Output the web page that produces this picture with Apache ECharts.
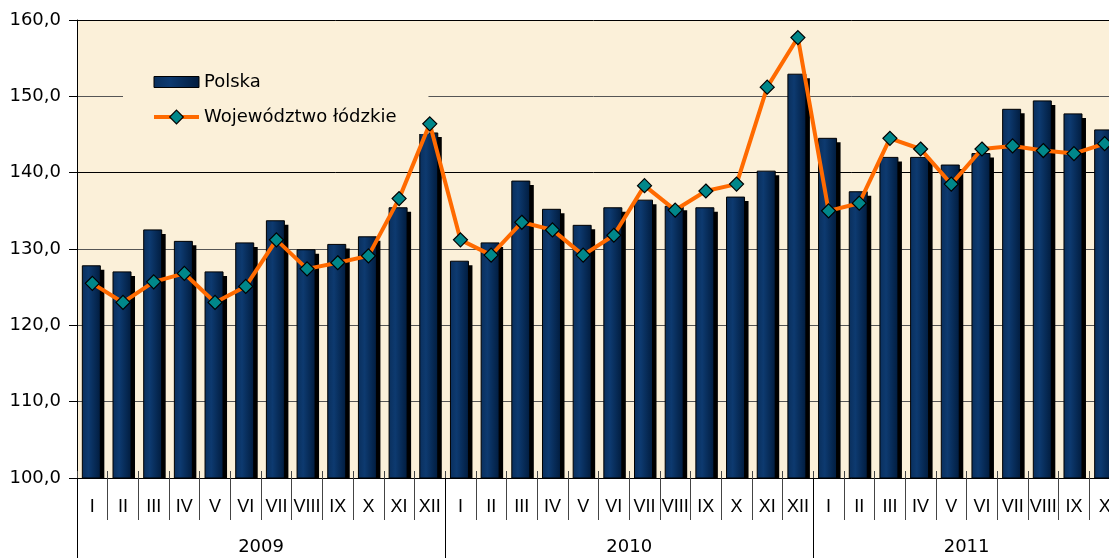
<!DOCTYPE html>
<html lang="pl">
  <head>
    <meta charset="UTF-8" />
    <title>Polska / Województwo łódzkie</title>
    <script src="https://cdn.jsdelivr.net/npm/echarts@6/dist/echarts.min.js"></script>
    <style>
      html, body { margin: 0; padding: 0; background: #fff; }
    </style>
  </head>
  <body>
    <div id="main" style="width: 1109px; height: 558px"></div>
    <script type="text/javascript">
      // data
      const months = [
        "I", "II", "III", "IV", "V", "VI", "VII", "VIII", "IX", "X", "XI", "XII",
        "I", "II", "III", "IV", "V", "VI", "VII", "VIII", "IX", "X", "XI", "XII",
        "I", "II", "III", "IV", "V", "VI", "VII", "VIII", "IX", "X",
      ];
      const years = ["2009", "2010", "2011"];
      const yearStart = [0, 12, 24];
      const yearMid = [6, 18, 29];

      const polska = [
        127.8, 127.0, 132.5, 131.0, 127.0, 130.8, 133.7, 129.9, 130.6, 131.6, 135.4, 145.2,
        128.4, 130.8, 138.9, 135.2, 133.1, 135.4, 136.4, 135.6, 135.4, 136.8, 140.2, 152.9,
        144.5, 137.5, 142.0, 142.0, 141.0, 142.5, 148.3, 149.4, 147.7, 145.6,
      ];
      const lodzkie = [
        125.5, 123.0, 125.7, 126.8, 123.0, 125.1, 131.2, 127.4, 128.2, 129.1, 136.6, 146.4,
        131.2, 129.2, 133.5, 132.5, 129.2, 131.8, 138.3, 135.1, 137.6, 138.5, 151.2, 157.7,
        135.0, 136.0, 144.5, 143.1, 138.5, 143.1, 143.5, 142.9, 142.5, 143.8,
      ];

      const wideFont = "'DejaVu Sans', Arial, sans-serif";
      const narrowFont = "'Liberation Sans Narrow', 'Arial Narrow', Arial, sans-serif";
      const plotBg = "#fbf0d9";

      const barFill = new echarts.graphic.LinearGradient(0, 0, 1, 0, [
        { offset: 0, color: "#0a2f5c" },
        { offset: 0.35, color: "#0d3a70" },
        { offset: 1, color: "#011c3e" },
      ]);

      // bar with a hard black drop shadow, clipped to the plot
      function renderBar(params, api) {
        const pt = api.coord([api.value(0), api.value(1)]);
        const base = params.coordSys.y + params.coordSys.height;
        const w = 18;
        const x = pt[0] - w / 2 - 1;
        const h = base - pt[1];
        return {
          type: "group",
          children: [
            { type: "rect", shape: { x: x + 4, y: pt[1] + 4, width: w, height: h }, style: { fill: "#000" } },
            { type: "rect", shape: { x: x, y: pt[1], width: w, height: h }, style: { fill: barFill, stroke: "#000", lineWidth: 1 } },
          ],
        };
      }

      let myChart = echarts.init(document.getElementById("main"));

      let options = {
        animation: false,
        textStyle: { fontFamily: wideFont },
        grid: {
          left: 77,
          right: -11,
          top: 20,
          bottom: 80,
          outerBoundsMode: "none",
          containLabel: false,
          show: true,
          backgroundColor: plotBg,
          borderWidth: 0,
        },
        legend: {
          orient: "vertical",
          left: 123,
          top: 65,
          padding: [8, 32, 8, 29],
          backgroundColor: plotBg,
          itemWidth: 45,
          itemHeight: 17,
          itemGap: 17,
          itemTextGap: 6,
          textStyle: { fontSize: 18, color: "#000", fontFamily: wideFont },
          data: [
            {
              name: "Polska",
              icon: "path://M0 0H45V11H0Z",
              itemStyle: { color: barFill, borderColor: "#000", borderWidth: 1 },
            },
            {
              name: "Województwo łódzkie",
              lineStyle: { color: "#ff6a00", width: 4 },
              itemStyle: { color: "#00878a", borderColor: "#000", borderWidth: 1.2 },
            },
          ],
        },
        xAxis: [
          {
            // months
            type: "category",
            data: months,
            position: "bottom",
            offset: -7,
            axisLine: { show: false, onZero: false },
            axisTick: {
              show: true,
              interval: 0,
              length: 49,
              lineStyle: { color: "#444" },
            },
            axisLabel: {
              interval: 0,
              margin: 27,
              fontSize: 18,
              color: "#000",
              fontFamily: narrowFont,
            },
          },
          {
            // years
            type: "value",
            min: 0,
            max: months.length,
            position: "bottom",
            axisLine: { show: true, onZero: false, lineStyle: { color: "#000" } },
            axisTick: {
              show: true,
              customValues: yearStart,
              length: 81,
              lineStyle: { color: "#000" },
            },
            axisLabel: {
              customValues: yearMid,
              margin: 60,
              fontSize: 18,
              color: "#000",
              formatter: (v) => years[Math.floor(v / 12)],
            },
            splitLine: { show: false },
          },
        ],
        yAxis: {
          type: "value",
          min: 100,
          max: 160,
          interval: 10,
          axisLine: { show: true, onZero: false, lineStyle: { color: "#000" } },
          axisTick: { show: true, length: 8, lineStyle: { color: "#000" } },
          axisLabel: {
            margin: 16,
            fontSize: 18,
            color: "#000",
            formatter: (v) => v.toFixed(1).replace(".", ","),
          },
          splitLine: {
            lineStyle: { color: ["#000", "#555", "#555", "#555", "#000", "#555", "#000"], width: 1 },
          },
        },
        series: [
          {
            name: "Polska",
            type: "custom",
            xAxisIndex: 0,
            clip: true,
            renderItem: renderBar,
            encode: { x: 0, y: 1 },
            itemStyle: { color: "#0d3a70" },
            data: polska.map((v, i) => [i, v]),
          },
          {
            name: "Województwo łódzkie",
            type: "line",
            xAxisIndex: 0,
            data: lodzkie,
            z: 5,
            symbol: "diamond",
            symbolSize: 14,
            lineStyle: { color: "#ff6a00", width: 4 },
            itemStyle: { color: "#00878a", borderColor: "#000", borderWidth: 1.2 },
          },
        ],
      };

      myChart.setOption(options);
    </script>
  </body>
</html>
